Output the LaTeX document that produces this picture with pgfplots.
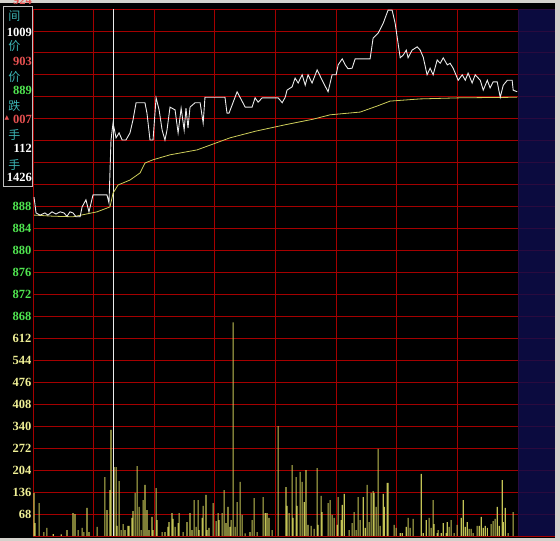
\documentclass[border=0pt]{standalone}
\usepackage{pgfplots}
\pgfplotsset{compat=1.18}
\usepackage{fontspec}
\setmainfont{Liberation Serif}
\newfontfamily\cjk{Noto Sans CJK SC}
\newfontfamily\sym{DejaVu Sans}
\definecolor{gridred}{RGB}{165,0,0}
\definecolor{thickred}{RGB}{215,0,0}
\definecolor{navyb}{RGB}{14,14,78}
\definecolor{pgreen}{RGB}{80,230,80}
\definecolor{vyellow}{RGB}{240,240,150}
\definecolor{tealc}{RGB}{60,180,180}
\definecolor{lred}{RGB}{230,80,80}
\definecolor{barc}{RGB}{195,195,85}
\definecolor{avgc}{RGB}{205,205,90}
\definecolor{framegray}{RGB}{212,210,204}
\definecolor{pricew}{RGB}{235,235,235}
\begin{document}
\begin{tikzpicture}[x=1pt,y=1pt]
\clip (0,0) rectangle (560,541);
\fill[framegray] (0,0) rectangle (560,541);
\fill[black] (0,3) rectangle (555,538);
% ---------------- price panel ----------------
\begin{axis}[at={(33pt,225pt)}, anchor=south west, width=522pt, height=307pt, scale only axis,
  xmin=0, xmax=258.3, ymin=868, ymax=924,
  axis line style={draw=none}, tick style={draw=none},
  xtick={0,30,...,240}, xticklabels={},
  ytick={868,872,...,924},
  yticklabels={\textcolor{pgreen}{868},\textcolor{pgreen}{872},\textcolor{pgreen}{876},\textcolor{pgreen}{880},\textcolor{pgreen}{884},\textcolor{pgreen}{888},,,,,,,,,},
  grid=major, major grid style={gridred, line width=0.8pt},
  x grid style={gridred, line width=1pt},
  extra y ticks={896,868}, extra y tick labels={}, extra y tick style={grid style={thickred, line width=1.8pt}},
  yticklabel style={anchor=east, inner sep=0pt, xshift=-1.5pt, font=\fontsize{12.5}{13}\selectfont\bfseries},
  /pgf/number format/assume math mode=true]
\addplot[fill=navyb, draw=none, fill opacity=0.82] coordinates {(240,868) (258.3,868) (258.3,924) (240,924)} -- cycle;
\addplot[pricew, line width=0.8pt] coordinates {(39.6,868) (39.6,924)};
% average price
\addplot[avgc, line width=0.8pt] coordinates {
(0.5,886.4) (1,886.4) (10,886.2) (19.8,886.1) (31.7,887.0) (38.1,887.9) (39.6,890.4) (42.1,891.9)
(48.0,892.8) (53.0,894.1) (55.4,895.9) (59.4,896.5) (67.8,897.4) (81.2,898.3) (97.5,900.5)
(110,901.7) (125,902.9) (138.6,903.9) (147.0,904.7) (161.9,905.2) (170.3,906.3) (176.7,907.2)
(191.6,907.6) (211.4,907.8) (239.6,907.9)};
% price
\addplot[pricew, line width=0.9pt] coordinates {
(0.5,889.7) (1.5,886.8) (3.5,886.4) (5.9,886.8) (7.4,886.4) (9.4,887.0) (11.4,886.6) (13.4,887.0)
(15.3,886.8) (16.8,886.2) (18.3,887.0) (19.8,886.8) (21.3,886.1) (23.3,886.1) (24.3,887.9)
(26.2,889.2) (27.7,887.0) (29.7,890.1) (36.6,890.1) (37.6,888.6) (38.6,900.1) (39.6,903.2)
(41.1,900.5) (42.6,901.4) (44.1,900.1) (46.0,900.1) (48.0,901.4) (49.5,903.8) (51.0,906.9)
(55.4,906.9) (56.4,905.0) (57.9,900.1) (59.4,900.1) (60.9,907.8) (62.4,905.6) (63.9,901.9)
(65.3,900.1) (66.3,901.9) (67.8,906.1) (70.3,905.6) (71.8,901.4) (73.3,905.9) (74.8,901.9)
(75.7,905.9) (76.7,902.3) (77.7,906.1) (80.2,906.9) (82.7,906.9) (84.2,903.2) (85.1,907.9)
(95.0,907.9) (96.0,905.0) (97.0,905.0) (101.0,908.9) (105.0,906.1) (108.4,906.1) (109.9,907.8)
(111.4,907.0) (113.4,907.8) (121.3,907.8) (123.3,906.9) (124.8,907.9) (125.7,909.2) (128.2,909.8)
(129.7,911.4) (131.2,910.5) (133.2,912.0) (134.7,910.1) (136.1,912.0) (138.1,910.5) (140.6,912.9)
(143.1,911.0) (146.0,908.9) (148.0,912.0) (150.0,912.0) (151.0,913.8) (153.0,914.9) (154.5,913.8)
(155.9,913.1) (157.9,913.2) (159.4,914.9) (166.8,914.9) (168.3,918.7) (170.8,919.6) (173.3,921.4)
(175.7,923.8) (177.7,923.8) (179.2,921.4) (181.7,915.1) (183.2,915.6) (184.7,916.5) (185.6,915.1)
(187.6,916.5) (190.1,917.1) (191.6,916.5) (193.1,915.2) (195.0,912.0) (196.5,913.2) (198.0,912.0)
(200.0,914.7) (201.5,914.1) (203.0,915.1) (205.0,913.8) (206.4,914.1) (207.9,913.2) (210.4,911.0)
(212.4,912.0) (213.9,911.0) (215.3,912.3) (217.3,910.5) (218.8,912.0) (221.3,911.0) (222.8,909.2)
(224.8,911.0) (226.2,909.6) (227.7,910.7) (229.7,910.7) (231.2,907.9) (232.7,910.1) (234.7,911.0)
(237.1,911.0) (237.6,909.2) (239.6,908.9)};
\end{axis}
% ---------------- volume panel ----------------
\begin{axis}[at={(33pt,5pt)}, anchor=south west, width=522pt, height=220pt, scale only axis,
  xmin=0, xmax=258.3, ymin=0, ymax=680,
  axis line style={draw=none}, tick style={draw=none},
  xtick={0,30,...,240}, xticklabels={},
  ytick={0,68,...,680},
  yticklabels={,68,136,204,272,340,408,476,544,612,},
  grid=major, major grid style={gridred, line width=0.8pt},
  x grid style={gridred, line width=1pt},
  extra y ticks={680}, extra y tick labels={}, extra y tick style={grid style={thickred, line width=1.8pt}},
  yticklabel style={anchor=east, inner sep=0pt, xshift=-1.5pt, text=vyellow, font=\fontsize{12.5}{13}\selectfont\bfseries},
  /pgf/number format/assume math mode=true]
\addplot[fill=navyb, draw=none, fill opacity=0.82] coordinates {(240,0) (258.3,0) (258.3,680) (240,680)} -- cycle;
\addplot[ybar, bar width=1.1pt, fill=barc, draw=none] coordinates {
(0.5,133) (1.0,40) (3.0,102) (5.4,12) (6.9,25) (10,6) (14,5) (16.8,18) (19.8,71) (20.8,68) (22.3,18)
(24.3,25) (25.2,12) (26.7,87) (27.7,12) (31.7,28) (35.6,182) (36.6,80) (38.1,142) (38.6,328)
(40.1,213) (41.1,213) (41.6,31) (42.6,170) (43.6,18) (44.6,37) (45.5,18) (47.0,31) (47.5,31)
(49.0,56) (49.5,77) (50.5,133) (51.5,216) (52.5,90) (53.5,18) (54.5,111) (55.4,158) (56.4,80)
(57.4,18) (58.9,59) (59.4,18) (60.9,148) (61.4,49) (63.9,12) (65.3,12) (66.8,28) (67.3,43)
(68.8,71) (69.3,53) (70.3,28) (71.8,40) (72.3,71) (74.3,12) (76.2,43) (77.7,71) (78.7,18)
(79.7,111) (80.7,28) (81.7,111) (82.2,18) (83.7,56) (84.2,93) (85.6,127) (86.1,18) (87.1,25)
(89.1,102) (90.6,46) (91.6,71) (92.1,49) (93.6,71) (94.6,142) (95.5,40) (96.5,90) (97.5,28)
(98.0,49) (99.0,660) (100.0,28) (101.0,105) (102.5,167) (103.5,65) (105,8) (107.4,12) (108.4,49)
(109.4,117) (110.9,12) (113.9,120) (114.9,71) (115.8,71) (116.8,56) (118.3,18) (121.3,340)
(125.2,151) (125.7,93) (126.7,71) (128.2,219) (128.7,56) (130.2,182) (130.7,93) (132.2,198)
(133.2,167) (134.2,105) (135.1,204) (136.1,34) (137.6,31) (139.1,22) (140.6,210) (141.1,34)
(142.6,124) (143.1,74) (146.0,102) (147.0,111) (148.0,65) (149.0,56) (150.5,34) (151.0,120)
(152.5,49) (153.0,96) (154.0,130) (156.4,18) (157.9,40) (158.9,74) (159.9,18) (160.9,120)
(161.9,49) (163.4,120) (164.4,25) (165.3,158) (166.3,43) (167.3,133) (168.3,139) (168.8,133)
(169.8,90) (170.8,269) (171.8,31) (173.3,130) (173.8,90) (175.2,164) (175.7,164) (178.7,34)
(179.7,25) (181.7,9) (182.7,9) (184.7,28) (185.6,56) (186.6,25) (188.1,53) (192.1,192) (193.1,9)
(194.6,49) (196.0,56) (197.0,25) (198.0,111) (198.5,37) (200.0,9) (200.5,18) (202.0,9) (203.0,40)
(204.5,9) (205.0,43) (205.9,28) (206.9,49) (208.4,9) (209.9,34) (211.9,56) (212.9,111) (213.9,28)
(214.9,43) (215.8,22) (216.8,22) (217.8,9) (219.8,31) (220.8,31) (221.8,59) (222.8,25) (223.8,31)
(224.8,25) (226.7,37) (227.7,46) (228.7,53) (229.7,90) (230.7,31) (232.2,173) (232.7,43) (233.7,87)
(235.1,9) (237.6,74)};
\addplot[ybar, bar width=0.8pt, fill=pricew, draw=none] coordinates {(39.6,680)};
\end{axis}
% ---------------- info box ----------------
\node[anchor=east, text=lred, inner sep=0pt, font=\fontsize{12.5}{13}\selectfont\bfseries] at (32,541) {924};
\filldraw[fill=black, draw=lightgray, line width=1pt] (3.5,354) rectangle (32.5,534);
\node[text=tealc, font=\cjk\fontsize{12}{12}\selectfont] at (14.5,525) {间};
\node[anchor=east, text=white, inner sep=0pt, font=\fontsize{12.5}{13}\selectfont\bfseries] at (32,509) {1009};
\node[text=tealc, font=\cjk\fontsize{12}{12}\selectfont] at (14.5,495) {价};
\node[anchor=east, text=lred, inner sep=0pt, font=\fontsize{12.5}{13}\selectfont\bfseries] at (32,480) {903};
\node[text=tealc, font=\cjk\fontsize{12}{12}\selectfont] at (14.5,464) {价};
\node[anchor=east, text=pgreen, inner sep=0pt, font=\fontsize{12.5}{13}\selectfont\bfseries] at (32,451) {889};
\node[text=tealc, font=\cjk\fontsize{12}{12}\selectfont] at (14.5,435) {跌};
\node[text=lred, inner sep=0pt, font=\sym\fontsize{6}{6}\selectfont] at (7,423) {▲};
\node[anchor=east, text=lred, inner sep=0pt, font=\fontsize{12.5}{13}\selectfont\bfseries] at (32,422) {007};
\node[text=tealc, font=\cjk\fontsize{12}{12}\selectfont] at (14.5,406) {手};
\node[anchor=east, text=white, inner sep=0pt, font=\fontsize{12.5}{13}\selectfont\bfseries] at (32,393) {112};
\node[text=tealc, font=\cjk\fontsize{12}{12}\selectfont] at (14.5,376) {手};
\node[anchor=east, text=white, inner sep=0pt, font=\fontsize{12.5}{13}\selectfont\bfseries] at (32,364) {1426};
\end{tikzpicture}
\end{document}
